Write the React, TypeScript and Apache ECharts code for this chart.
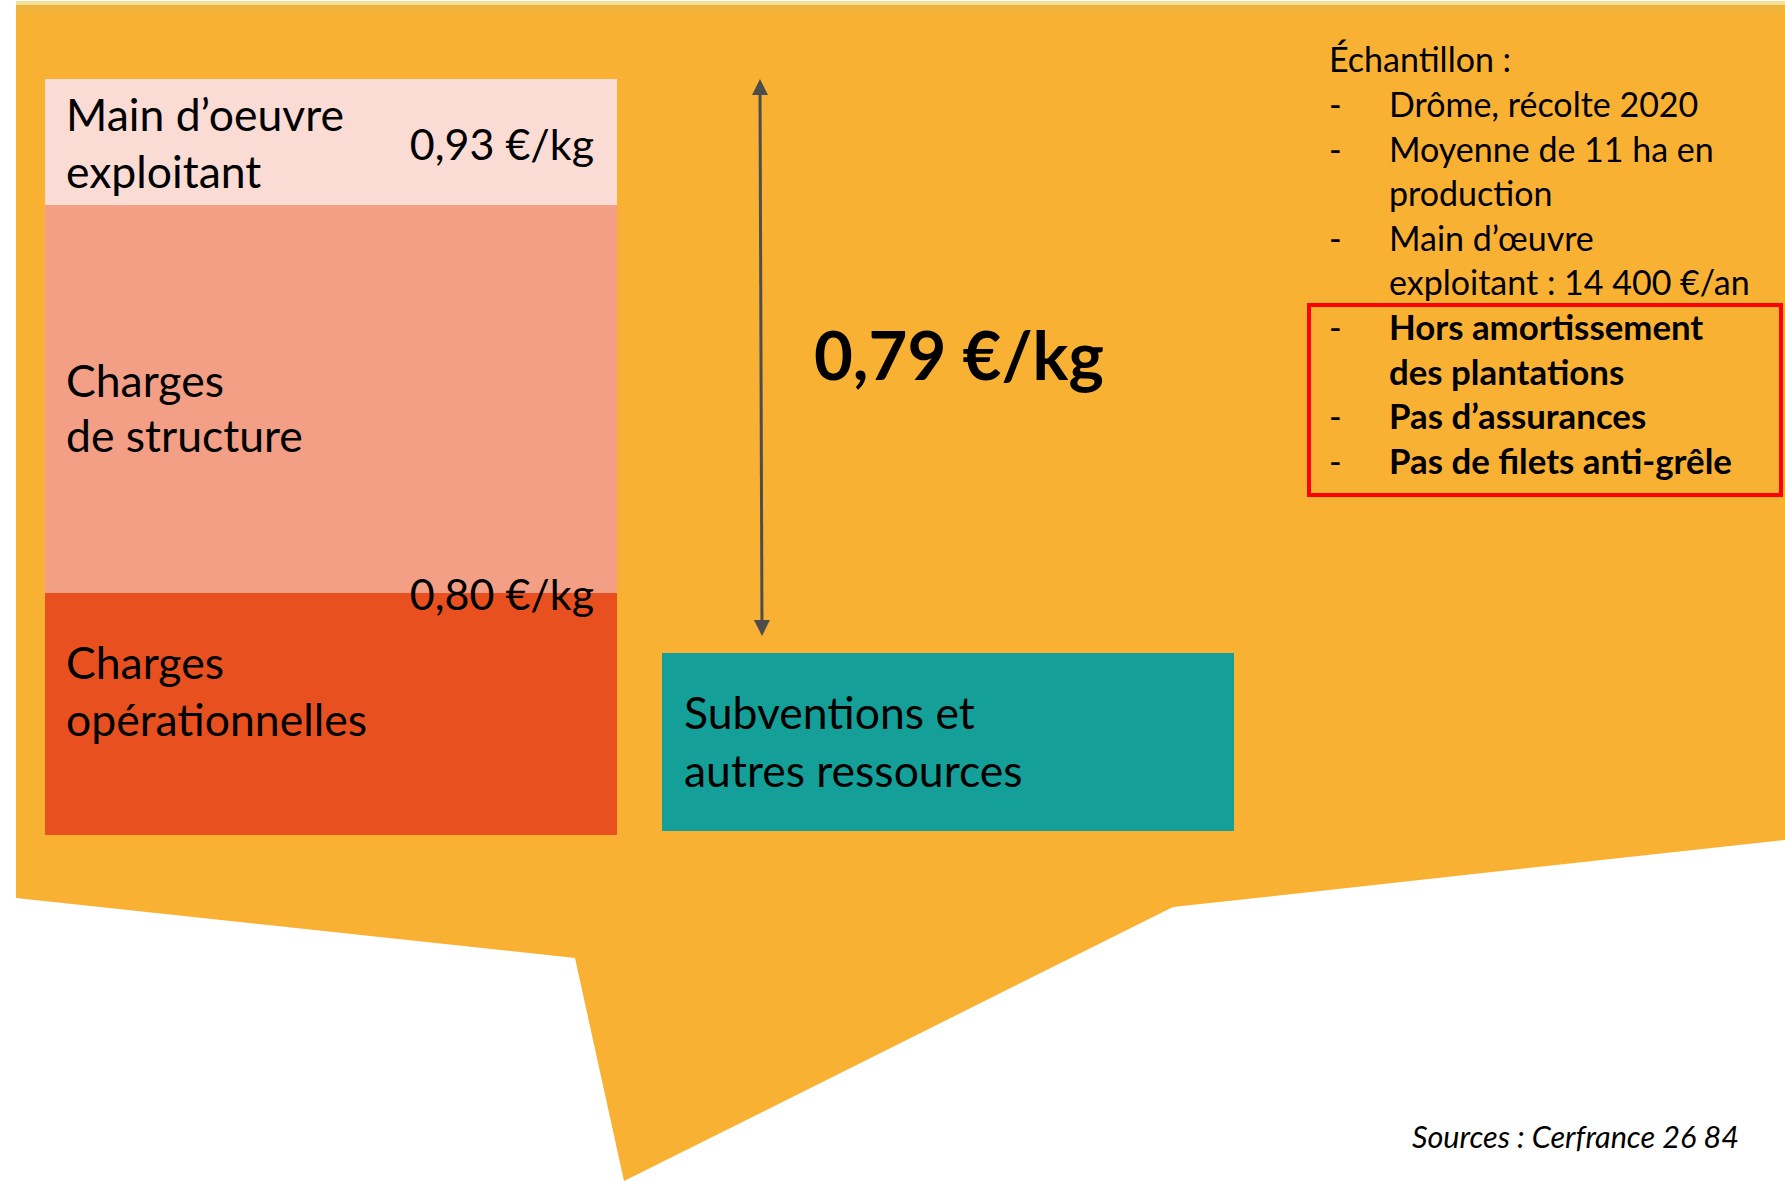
import React, { useEffect, useRef } from 'react';
import * as echarts from 'echarts';

const W = 1785;
const H = 1181;

// ---- data ----
const categories = ['Charges', 'Ressources'];
const opCharges = [2.42, '-'];
const structureCharges = [3.88, '-'];
const labourCharges = [1.26, '-'];
const resourceBase = ['-', 0.04];
const resources = ['-', 1.78];
const arrowSpan = [[0.6953, 7.48], [0.6985, 2.07]];

const segmentLabels = [
  { lines: ["Main d\u2019oeuvre", 'exploitant'], ys: [113, 170] },
  { lines: ['Charges', 'de structure'], ys: [379, 434] },
  { lines: ['Charges', 'op\u00e9rationnelles'], ys: [661, 718] },
];
const priceLabels = ['0,93 \u20ac/kg', '0,80 \u20ac/kg', '0,79 \u20ac/kg'];
const resourceLabel = ['Subventions et', 'autres ressources'];
const noteTitle = '\u00c9chantillon :';
const noteLines = [
  { dash: true, text: 'Dr\u00f4me, r\u00e9colte 2020', bold: false },
  { dash: true, text: 'Moyenne de 11 ha en', bold: false },
  { dash: false, text: 'production', bold: false },
  { dash: true, text: 'Main d\u2019\u0153uvre', bold: false },
  { dash: false, text: 'exploitant : 14 400 \u20ac/an', bold: false },
  { dash: true, text: 'Hors amortissement', bold: true },
  { dash: false, text: 'des plantations', bold: true },
  { dash: true, text: 'Pas d\u2019assurances', bold: true },
  { dash: true, text: 'Pas de filets anti-gr\u00eale', bold: true },
];
const sourceText = 'Sources : Cerfrance 26 84';

const FONT = 'Lato';

function txt(text: string, x: number, y: number, size: number, opts: any = {}) {
  return {
    type: 'text',
    z: 100,
    silent: true,
    style: {
      text,
      x,
      y,
      fontFamily: FONT,
      fontSize: size,
      fontWeight: opts.bold ? 'bold' : 'normal',
      fontStyle: opts.italic ? 'italic' : 'normal',
      fill: '#000000',
      textAlign: opts.align || 'left',
      textVerticalAlign: 'middle',
    },
  };
}

export default function App() {
  const ref = useRef<HTMLDivElement>(null);

  useEffect(() => {
    if (!ref.current) return;
    const chart = echarts.init(ref.current, null, { renderer: 'svg', width: W, height: H });

    const graphics: any[] = [];
    // background shape
    graphics.push({
      type: 'polygon',
      z: -10,
      silent: true,
      shape: {
        points: [
          [16, 4], [1785, 4], [1785, 840], [1173, 907], [624, 1181], [575, 958], [16, 898],
        ],
      },
      style: { fill: '#F8B133' },
    });
    graphics.push({
      type: 'rect', z: -9, silent: true,
      shape: { x: 16, y: 1, width: 1769, height: 4 },
      style: { fill: '#F5DE98' },
    });
    graphics.push({
      type: 'rect', z: -9, silent: true,
      shape: { x: 16, y: 5, width: 1769, height: 8 },
      style: { fill: '#EFB23C' },
    });

    // bar segment labels
    const segFs = 44.5;
    segmentLabels.forEach((s) => {
      s.lines.forEach((l, i) => graphics.push(txt(l, 66, s.ys[i], segFs)));
    });
    graphics.push(txt(priceLabels[0], 594, 143, 43, { align: 'right' }));
    graphics.push(txt(priceLabels[1], 594, 593, 43, { align: 'right' }));
    graphics.push(txt(priceLabels[2], 814, 354, 67, { bold: true }));
    graphics.push(txt(resourceLabel[0], 684, 711, segFs));
    graphics.push(txt(resourceLabel[1], 684, 769, segFs));

    // notes
    const noteFs = 34;
    const lineH = 44.6;
    const y0 = 58.8;
    graphics.push(txt(noteTitle, 1329, y0, noteFs));
    noteLines.forEach((n, i) => {
      const y = y0 + lineH * (i + 1);
      if (n.dash) graphics.push(txt('-', 1329, y, noteFs));
      graphics.push(txt(n.text, 1389, y, n.bold ? 34.8 : noteFs, { bold: n.bold }));
    });
    graphics.push({
      type: 'rect', z: 100, silent: true,
      shape: { x: 1309, y: 305, width: 472, height: 190 },
      style: { fill: 'none', stroke: '#FF0000', lineWidth: 4 },
    });
    graphics.push(txt(sourceText, 1412, 1136, 30.6, { italic: true }));

    const option: any = {
      animation: false,
      backgroundColor: '#ffffff',
      grid: { left: 22.5, width: 1234, top: 35, height: 800 },
      xAxis: [
        { type: 'category', data: categories, show: false },
        { type: 'value', min: -0.5, max: 1.5, show: false },
      ],
      yAxis: { type: 'value', min: 0, max: 8, show: false },
      series: [
        {
          name: 'Charges op\u00e9rationnelles', type: 'bar', stack: 'a', barWidth: 572,
          data: opCharges, itemStyle: { color: '#E8511F' }, silent: true,
        },
        {
          name: 'Charges de structure', type: 'bar', stack: 'a', barWidth: 572,
          data: structureCharges, itemStyle: { color: '#F29F86' }, silent: true,
        },
        {
          name: "Main d'oeuvre exploitant", type: 'bar', stack: 'a', barWidth: 572,
          data: labourCharges, itemStyle: { color: '#FADCD4' }, silent: true,
        },
        {
          name: 'base', type: 'bar', stack: 'a', barWidth: 572,
          data: resourceBase, itemStyle: { color: 'rgba(0,0,0,0)' }, silent: true,
        },
        {
          name: 'Subventions et autres ressources', type: 'bar', stack: 'a', barWidth: 572,
          data: resources, itemStyle: { color: '#14A098' }, silent: true,
        },
        {
          name: 'arrow', type: 'line', xAxisIndex: 1, yAxisIndex: 0, data: [],
          showSymbol: false, silent: true,
          markLine: {
            silent: true,
            symbol: ['triangle', 'triangle'],
            symbolSize: 16,
            label: { show: false },
            lineStyle: { color: '#4D4D4D', width: 3, type: 'solid' },
            data: [[{ coord: arrowSpan[0] }, { coord: arrowSpan[1] }]],
          },
        },
      ],
      graphic: { elements: graphics },
    };
    chart.setOption(option);
    return () => chart.dispose();
  }, []);

  return (
    <div
      ref={ref}
      style={{ position: 'absolute', left: 0, top: 0, width: W, height: H }}
    />
  );
}
